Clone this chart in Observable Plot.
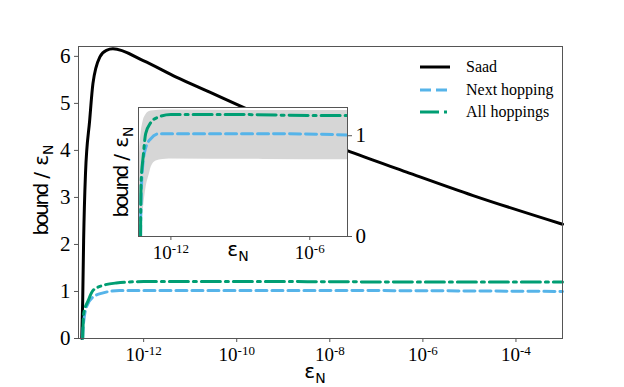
<!DOCTYPE html>
<html>
<head>
<meta charset="utf-8">
<script src="https://cdn.jsdelivr.net/npm/d3@7"></script>
<script src="https://cdn.jsdelivr.net/npm/@observablehq/plot@0.6"></script>
<style>
  html, body { margin: 0; padding: 0; background: white; }
  #wrap { position: relative; width: 624px; height: 387px; }
  #wrap svg { position: absolute; left: 0; top: 0; }
</style>
</head>
<body>
<div id="wrap"></div>
<script>
// ---- data (x values given as log10 of epsilon_N) ----
const saadLogX = [-13.33, -13.31, -13.29, -13.25, -13.16, -13.09, -12.94, -12.80, -12.66, -12.01, -11.30, -10.58, -9.87, -7.64, -6.35, -4.92, -3.0];
const saadY    = [0, 0.8, 2.08, 3.5, 4.64, 5.42, 5.99, 6.13, 6.16, 5.91, 5.56, 5.24, 4.92, 4.0, 3.54, 3.04, 2.43];

const nextLogX = [-13.31, -13.30, -13.23, -13.09, -12.87, -12.52, -12.0, -8.0, -3.0];
const nextY    = [0, 0.24, 0.67, 0.88, 0.97, 1.02, 1.02, 1.02, 1.0];

const allLogX  = [-13.31, -13.29, -13.19, -13.09, -12.87, -12.59, -12.0, -9.0, -6.0, -3.0];
const allY     = [0, 0.52, 0.81, 1.02, 1.13, 1.18, 1.21, 1.21, 1.2, 1.2];

const bandLogX = [-13.4, -13.35, -13.29, -13.2, -13.07, -12.93, -12.85, -12.64, -12.35, -12.07, -8.0, -3.0];
const bandLow  = [0, 0.02, 0.05, 0.25, 0.49, 0.62, 0.69, 0.75, 0.765, 0.77, 0.765, 0.76];
const bandHigh = [0.5, 0.85, 1.02, 1.14, 1.21, 1.24, 1.245, 1.25, 1.255, 1.255, 1.25, 1.25];

const mainXTicks  = [1e-12, 1e-10, 1e-8, 1e-6, 1e-4];
const mainYTicks  = [0, 1, 2, 3, 4, 5, 6];
const insetXTicks = [1e-12, 1e-6];
const insetYTicks = [0, 1];

const seriesNames = ["Saad", "Next hopping", "All hoppings"];
const seriesColors = ["#000000", "#56B4E9", "#009E73"];
const seriesDash = [null, "11,5", "19,5,3,5"];

const toRows = (lx, ys) => lx.map((v, i) => ({x: Math.pow(10, v), y: ys[i]}));
const saad = toRows(saadLogX, saadY);
const next = toRows(nextLogX, nextY);
const all  = toRows(allLogX, allY);
const band = bandLogX.map((v, i) => ({x: Math.pow(10, v), lo: bandLow[i], hi: bandHigh[i]}));

const serif = "'Liberation Serif', serif";
const sans = "'DejaVu Sans', sans-serif";
const expFormat = d => String(Math.round(Math.log10(d)));

function hopMarks(clip) {
  return [
    Plot.line(next, {x: "x", y: "y", stroke: seriesColors[1], strokeWidth: 3, strokeDasharray: seriesDash[1], curve: "monotone-x", clip}),
    Plot.line(all,  {x: "x", y: "y", stroke: seriesColors[2], strokeWidth: 3, strokeDasharray: seriesDash[2], curve: "monotone-x", clip})
  ];
}

function fixTicks(svg) {
  const s = d3.select(svg);
  s.selectAll('g[aria-label="x-axis tick label"] text').each(function() {
    const e = this.textContent;
    const t = d3.select(this);
    t.text("10");
    t.append("tspan").attr("dy", "-0.5em").style("font-size", "13px").text(e);
  });
  s.selectAll('g[aria-label="x-axis tick label"], g[aria-label="y-axis tick label"]')
    .attr("font-family", serif).style("font-family", serif);
  s.selectAll('g[aria-label="x-axis tick label"] text, g[aria-label="y-axis tick label"] text')
    .style("font-family", serif).style("fill", "#000");
  s.selectAll('g[aria-label="x-axis tick label"] text').style("font-size", "19px");
  s.selectAll('g[aria-label="y-axis tick label"] text').style("font-size", "21px");
}

function epsLabel(sel, x, y, rotate, parts) {
  const t = sel.append("text")
    .attr("transform", `translate(${x},${y})` + (rotate ? " rotate(-90)" : ""))
    .attr("text-anchor", "middle")
    .style("font-family", sans)
    .style("font-size", "20px")
    .style("fill", "#000");
  if (parts) {
    t.append("tspan").attr("letter-spacing", "-2.5").text("bound");
    t.append("tspan").text(" / ε");
  } else {
    t.append("tspan").text("ε");
  }
  t.append("tspan").style("font-size", "14px").attr("dy", 5).text("N");
}

// ---- main chart ----
const main = Plot.plot({
  width: 624, height: 387,
  marginLeft: 78, marginRight: 62, marginTop: 46, marginBottom: 49,
  style: {background: "white"},
  x: {type: "log", domain: [Math.pow(10, -13.4), 1e-3]},
  y: {domain: [0, 6.21]},
  marks: [
    Plot.line(saad, {x: "x", y: "y", stroke: seriesColors[0], strokeWidth: 3, curve: "monotone-x"}),
    ...hopMarks(false),
    Plot.frame({stroke: "#555", strokeWidth: 1}),
    Plot.axisX({ticks: mainXTicks, tickFormat: expFormat, tickSize: 4, tickPadding: 5, label: null, stroke: "#555"}),
    Plot.axisY({ticks: mainYTicks, tickFormat: d => String(d), tickSize: 4, tickPadding: 4, label: null, stroke: "#555"})
  ]
});
fixTicks(main);
const ms = d3.select(main);
epsLabel(ms, 48, 190, true, true);
epsLabel(ms, 315, 378, false, false);

// legend
const legY = [67, 90, 112];
seriesNames.forEach((name, i) => {
  ms.append("line").attr("x1", 420).attr("x2", 450).attr("y1", legY[i]).attr("y2", legY[i])
    .attr("stroke", seriesColors[i]).attr("stroke-width", 3)
    .attr("stroke-dasharray", i === 1 ? "11,5" : (i === 2 ? "19,5,3,5" : null));
  ms.append("text").attr("x", 466).attr("y", legY[i] + 5)
    .attr("text-anchor", "start")
    .style("text-anchor", "start")
    .style("font-family", serif).style("font-size", "16px").style("fill", "#000").text(name);
});

// ---- inset chart ----
const inset = Plot.plot({
  width: 624, height: 387,
  marginLeft: 138, marginRight: 277, marginTop: 107, marginBottom: 151,
  style: {background: "transparent"},
  x: {type: "log", domain: [Math.pow(10, -13.4), Math.pow(10, -4.37)]},
  y: {domain: [0, 1.28]},
  marks: [
    Plot.frame({fill: "white"}),
    Plot.areaY(band, {x: "x", y1: "lo", y2: "hi", fill: "#d6d6d6", curve: "monotone-x", clip: true}),
    ...hopMarks(true),
    Plot.frame({stroke: "#555", strokeWidth: 1}),
    Plot.axisX({ticks: insetXTicks, tickFormat: expFormat, tickSize: 4, tickPadding: 5, label: null, stroke: "#555"}),
    Plot.axisY({anchor: "right", ticks: insetYTicks, tickFormat: d => String(d), tickSize: 4, tickPadding: 4, label: null, stroke: "#555"})
  ]
});
fixTicks(inset);
const is = d3.select(inset);
epsLabel(is, 128, 172, true, true);
epsLabel(is, 238, 256, false, false);

document.getElementById("wrap").append(main, inset);
</script>
</body>
</html>
